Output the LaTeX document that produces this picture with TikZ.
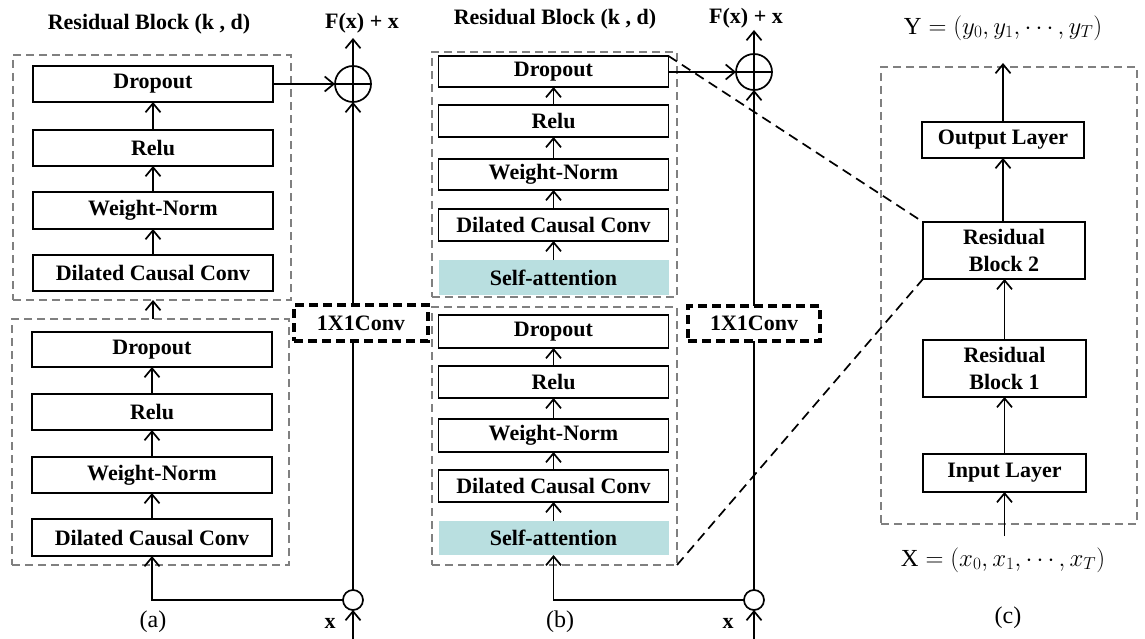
\documentclass[tikz,border=0pt]{standalone}
\usepackage{fontspec}
\setmainfont{Liberation Serif}
\usetikzlibrary{arrows.meta}
\definecolor{attn}{RGB}{185,223,224}
\definecolor{dgray}{RGB}{128,128,128}
\begin{document}
\begin{tikzpicture}[x=1pt,y=-1pt,
  font=\fontsize{22}{27}\selectfont,
  blk/.style={draw, line width=1.7pt, inner sep=0pt, outer sep=0pt, align=center, font=\fontsize{22}{27}\selectfont\bfseries},
  attnbox/.style={fill=attn, inner sep=0pt, outer sep=0pt, font=\fontsize{22}{27}\selectfont\bfseries},
  grp/.style={draw=dgray, line width=1.8pt, dash pattern=on 8pt off 5pt, inner sep=0pt, outer sep=0pt},
  conv/.style={draw, line width=3.2pt, dash pattern=on 9pt off 5pt, inner sep=0pt, outer sep=0pt, font=\fontsize{22}{27}\selectfont\bfseries},
  arr/.style={line width=1.7pt, -{Straight Barb[length=9pt,width=15pt]}},
  ln/.style={line width=1.7pt},
  zoomln/.style={line width=1.7pt, dash pattern=on 10pt off 6pt},
  plusc/.style={circle, draw, line width=1.7pt, minimum size=36pt, inner sep=0pt, outer sep=0pt},
  junc/.style={circle, draw, line width=1.7pt, minimum size=20pt, inner sep=0pt, outer sep=0pt},
  lbl/.style={inner sep=0pt, font=\fontsize{22}{27}\selectfont\bfseries},
  sublbl/.style={inner sep=0pt, font=\fontsize{24}{28}\selectfont},
  mathlbl/.style={inner sep=0pt, font=\fontsize{24.5}{29}\selectfont},
]
\useasboundingbox (0,0) rectangle (1145,639);

% ---------------- panel (a) ----------------
\node[grp, minimum width=278, minimum height=245] (ga1) at (152,177.5) {};
\node[grp, minimum width=277, minimum height=246] (ga2) at (150.5,442) {};

\node[blk, minimum width=240, minimum height=36] (a1drop) at (153,84) {Dropout};
\node[blk, minimum width=240, minimum height=36] (a1relu) at (153,148) {Relu};
\node[blk, minimum width=240, minimum height=37] (a1wn) at (153,210.5) {Weight-Norm};
\node[blk, minimum width=240, minimum height=36] (a1dcc) at (153,273) {Dilated Causal Conv};

\node[blk, minimum width=240, minimum height=35] (a2drop) at (152,349.5) {Dropout};
\node[blk, minimum width=240, minimum height=36] (a2relu) at (152,412) {Relu};
\node[blk, minimum width=240, minimum height=36] (a2wn) at (152,475) {Weight-Norm};
\node[blk, minimum width=240, minimum height=37] (a2dcc) at (152,537.5) {Dilated Causal Conv};

\node[conv, minimum width=134, minimum height=36] (convA) at (361,323) {1X1Conv};
\node[plusc] (plusA) at (353,84) {};
\node[junc] (juncA) at (353,600) {};
\node[lbl] (fxA) at (362,23) {F(x) + x};
\node[lbl] (titleA) at (149,24) {Residual Block (k , d)};
\node[sublbl] (capA) at (153,622) {(a)};
\node[lbl] (xA) at (330,623) {x};
\coordinate (topA) at (353,38);
\coordinate (botA) at (353,640);

\draw[arr] (a1relu) -- (a1drop);
\draw[arr] (a1wn) -- (a1relu);
\draw[arr] (a1dcc) -- (a1wn);
\draw[arr] (a2relu) -- (a2drop);
\draw[arr] (a2wn) -- (a2relu);
\draw[arr] (a2dcc) -- (a2wn);
\draw[arr] (ga2.north -| a1dcc) -- (ga1.south -| a1dcc);
\draw[arr] (a1drop.east |- plusA) -- (plusA.west);
\draw[ln] (plusA.north) -- (plusA.south) (plusA.west) -- (plusA.east);
\draw[arr] (plusA.north) -- (topA);
\draw[arr] (plusA |- convA.north) -- (plusA.south);
\draw[ln] (juncA.north) -- (juncA |- convA.south);
\draw[arr] (juncA.west) -| (a2dcc.south);
\draw[arr] (botA) -- (juncA.south);

% ---------------- panel (b) ----------------
\node[grp, minimum width=245, minimum height=245] (gb1) at (554.5,174.5) {};
\node[grp, minimum width=245, minimum height=258] (gb2) at (554.5,436) {};

\node[blk, minimum width=230, minimum height=31] (b1drop) at (553.5,71.5) {Dropout};
\node[blk, minimum width=230, minimum height=32] (b1relu) at (553.5,121) {Relu};
\node[blk, minimum width=230, minimum height=31] (b1wn) at (553.5,174.5) {Weight-Norm};
\node[blk, minimum width=230, minimum height=32] (b1dcc) at (553.5,225) {Dilated Causal Conv};
\node[attnbox, minimum width=230, minimum height=35] (b1sa) at (553.5,277.5) {Self-attention};

\node[blk, minimum width=230, minimum height=33] (b2drop) at (553.5,331.5) {Dropout};
\node[blk, minimum width=230, minimum height=32] (b2relu) at (553.5,382) {Relu};
\node[blk, minimum width=230, minimum height=33] (b2wn) at (553.5,435.5) {Weight-Norm};
\node[blk, minimum width=230, minimum height=32] (b2dcc) at (553.5,486) {Dilated Causal Conv};
\node[attnbox, minimum width=230, minimum height=34] (b2sa) at (553.5,538) {Self-attention};

\node[conv, minimum width=132, minimum height=35] (convB) at (754,323.5) {1X1Conv};
\node[plusc] (plusB) at (754,72) {};
\node[junc] (juncB) at (754,600) {};
\node[lbl] (fxB) at (746,18) {F(x) + x};
\node[lbl] (titleB) at (555,19) {Residual Block (k , d)};
\node[sublbl] (capB) at (560,622) {(b)};
\node[lbl] (xB) at (728,623) {x};
\coordinate (topB) at (754,30);
\coordinate (botB) at (754,640);

\draw[arr] (b1relu) -- (b1drop);
\draw[arr] (b1wn) -- (b1relu);
\draw[arr] (b1dcc) -- (b1wn);
\draw[arr] (b1sa) -- (b1dcc);
\draw[arr] (b2relu) -- (b2drop);
\draw[arr] (b2wn) -- (b2relu);
\draw[arr] (b2dcc) -- (b2wn);
\draw[arr] (b2sa) -- (b2dcc);
\draw[arr] (b1drop.east |- plusB) -- (plusB.west);
\draw[ln] (plusB.north) -- (plusB.south) (plusB.west) -- (plusB.east);
\draw[arr] (plusB.north) -- (topB);
\draw[arr] (plusB |- convB.north) -- (plusB.south);
\draw[ln] (juncB.north) -- (juncB |- convB.south);
\draw[arr] (juncB.west) -| (b2sa.south);
\draw[arr] (botB) -- (juncB.south);

% ---------------- panel (c) ----------------
\node[grp, minimum width=256, minimum height=457] (gc) at (1009,295.5) {};
\node[blk, minimum width=162, minimum height=36] (out) at (1003,140) {Output Layer};
\node[blk, minimum width=162, minimum height=57] (rb2) at (1004,250.5) {Residual\\Block 2};
\node[blk, minimum width=163, minimum height=57] (rb1) at (1004.5,368.5) {Residual\\Block 1};
\node[blk, minimum width=163, minimum height=38] (inp) at (1004.5,473) {Input Layer};
\node[mathlbl] (ylab) at (1003,28) {$\mathrm{Y}=(y_0,y_1,\cdots,y_T)$};
\node[mathlbl] (xlab) at (1003,560) {$\mathrm{X}=(x_0,x_1,\cdots,x_T)$};
\node[sublbl] (capC) at (1008,618) {(c)};
\coordinate (topC) at (1003,63);
\coordinate (botC) at (1004.5,536);

\draw[arr] (out.north) -- (topC);
\draw[arr] (rb2.north -| out) -- (out.south);
\draw[arr] (rb1.north) -- (rb2.south -| rb1);
\draw[arr] (inp) -- (rb1);
\draw[arr] (botC) -- (inp.south);

% zoom lines
\draw[zoomln] (b1drop.north east) -- (rb2.north west);
\draw[zoomln] (gb2.south east) -- (rb2.south west);
\end{tikzpicture}
\end{document}
